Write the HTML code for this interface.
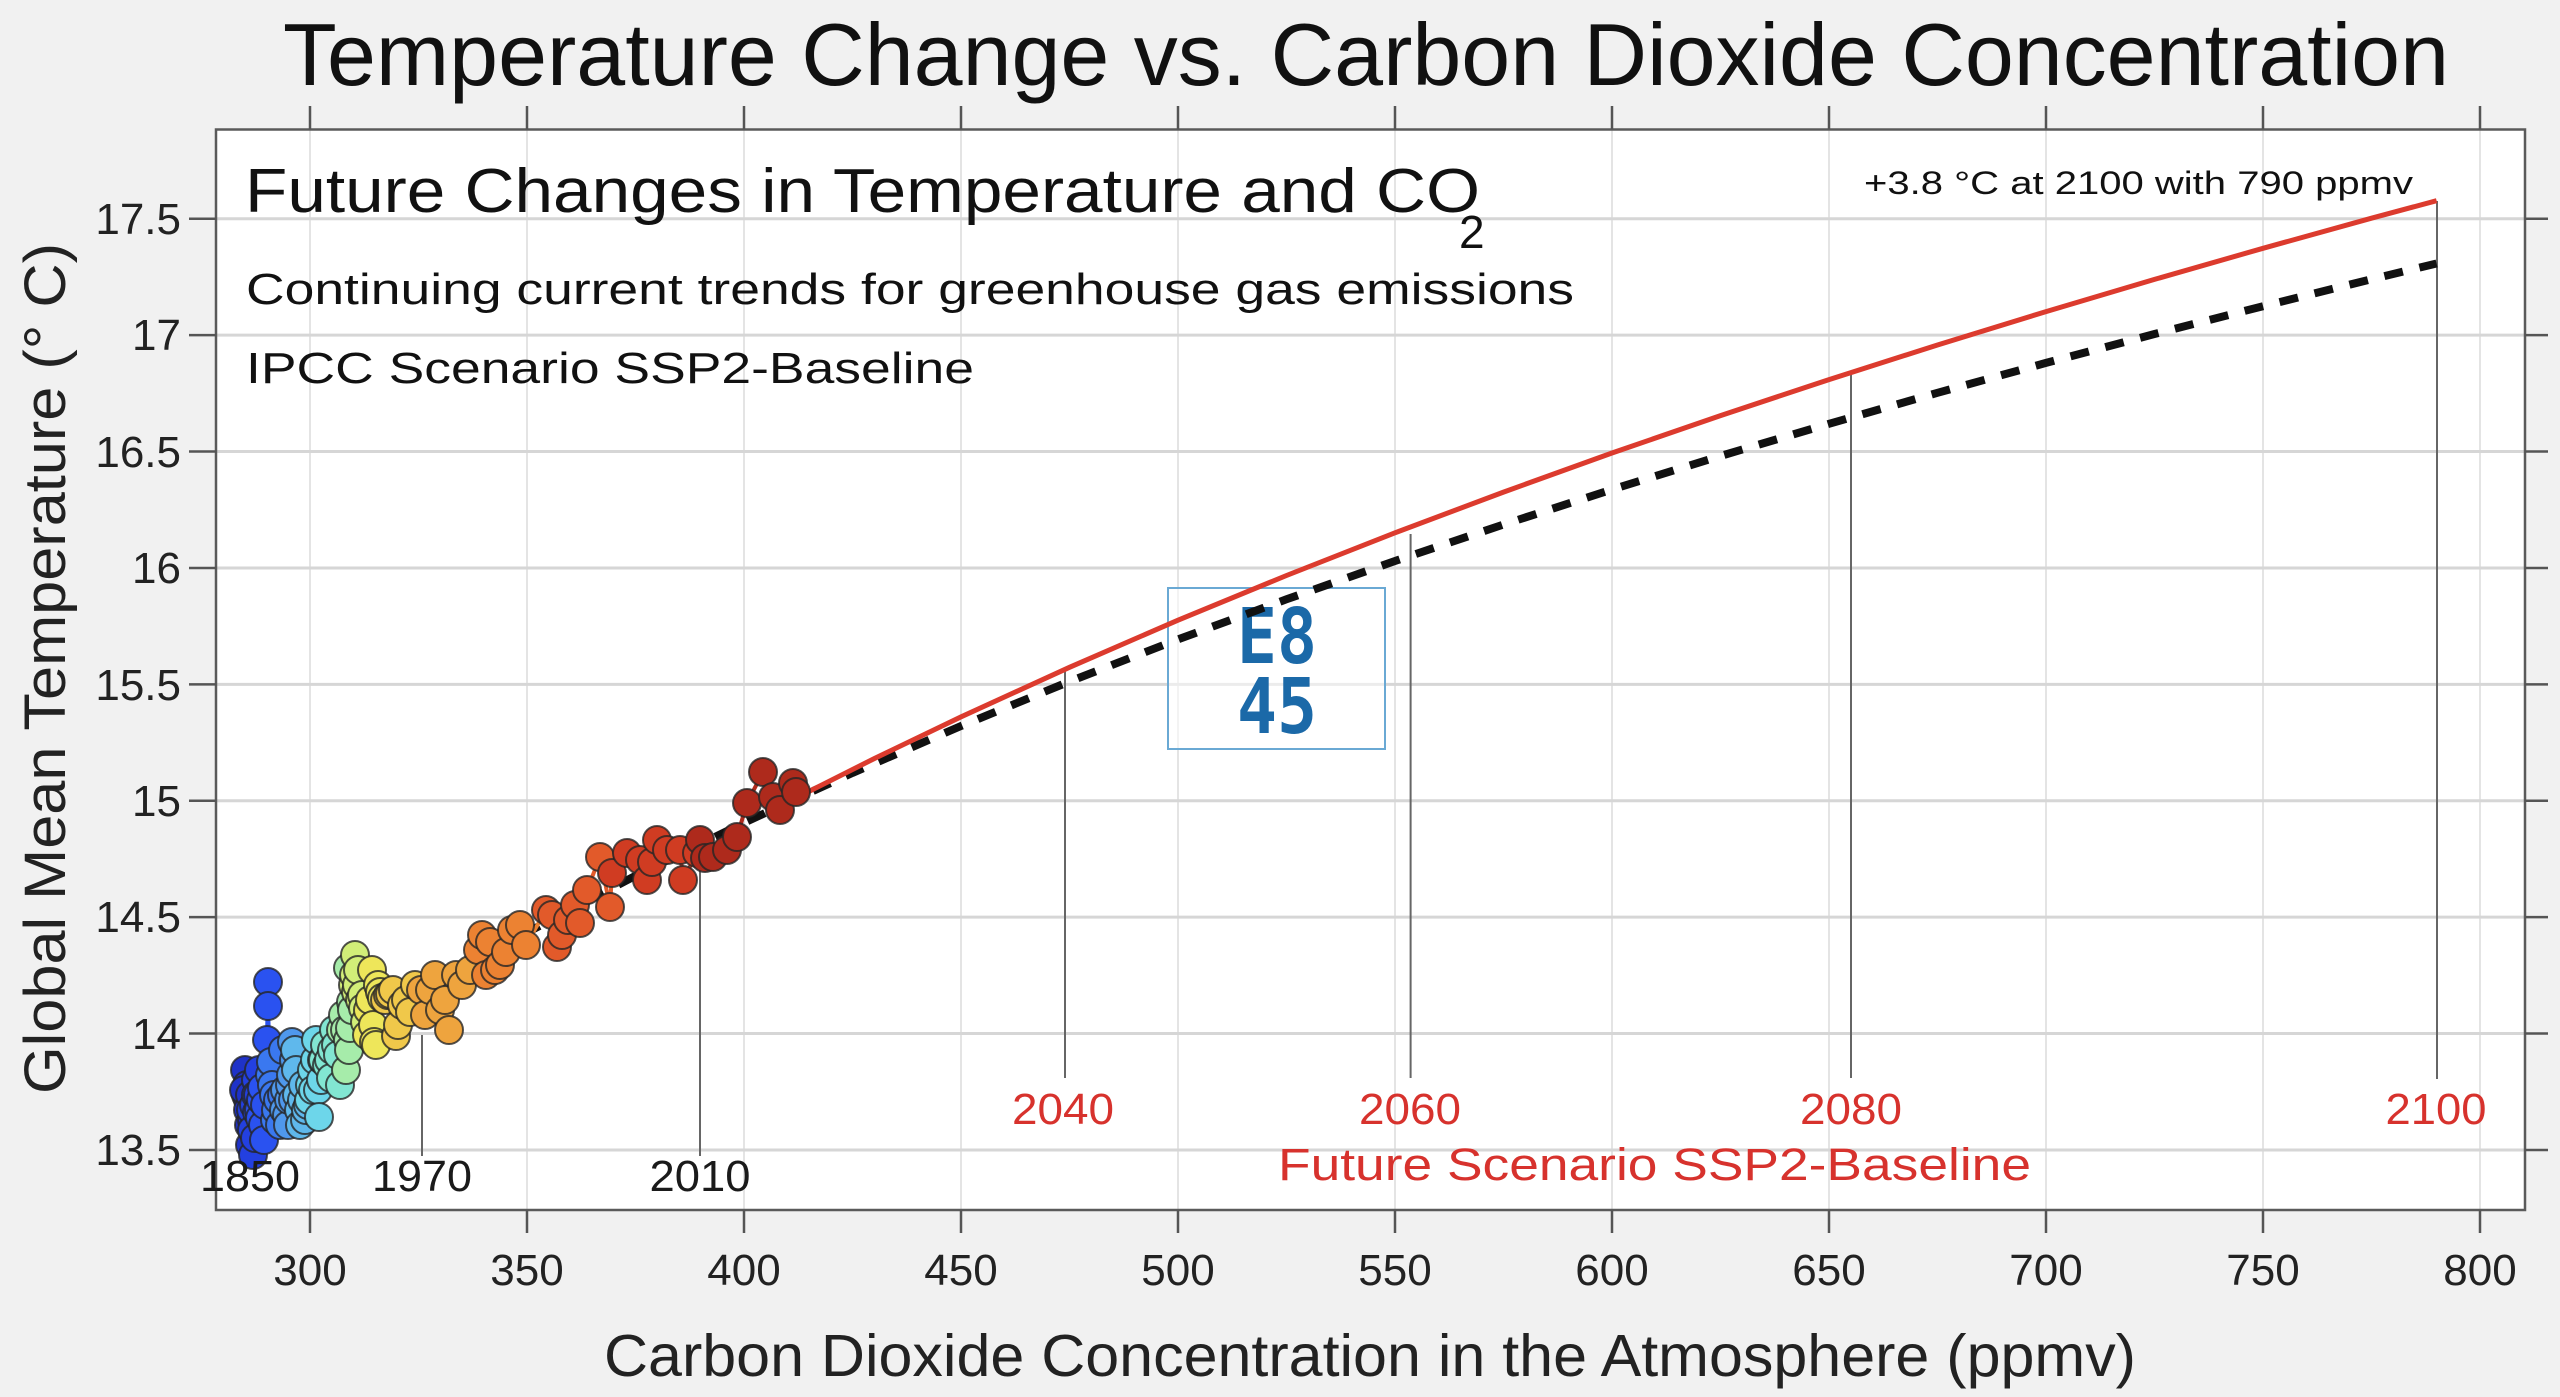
<!DOCTYPE html>
<html>
<head>
<meta charset="utf-8">
<style>
html,body{margin:0;padding:0;background:#f1f1f1;}
svg{display:block;}
text{font-family:"Liberation Sans",Arial,sans-serif;}
</style>
</head>
<body>
<svg width="2560" height="1397" viewBox="0 0 2560 1397" xmlns="http://www.w3.org/2000/svg">
<rect x="0" y="0" width="2560" height="1397" fill="#f1f1f1"/>

<!-- Title -->
<text x="283" y="85" font-size="88" fill="#111" textLength="2166" lengthAdjust="spacingAndGlyphs">Temperature Change vs. Carbon Dioxide Concentration</text>

<!-- Plot area -->
<rect x="216" y="129.5" width="2309" height="1080.5" fill="#ffffff"/>

<!-- vertical grid -->
<g stroke="#dedede" stroke-width="1.6">
<line x1="310" y1="130" x2="310" y2="1210"/>
<line x1="527" y1="130" x2="527" y2="1210"/>
<line x1="744" y1="130" x2="744" y2="1210"/>
<line x1="961" y1="130" x2="961" y2="1210"/>
<line x1="1178" y1="130" x2="1178" y2="1210"/>
<line x1="1395" y1="130" x2="1395" y2="1210"/>
<line x1="1612" y1="130" x2="1612" y2="1210"/>
<line x1="1829" y1="130" x2="1829" y2="1210"/>
<line x1="2046" y1="130" x2="2046" y2="1210"/>
<line x1="2263" y1="130" x2="2263" y2="1210"/>
<line x1="2480" y1="130" x2="2480" y2="1210"/>
</g>
<!-- horizontal grid -->
<g stroke="#d6d6d6" stroke-width="3">
<line x1="216" y1="218.75" x2="2525" y2="218.75"/>
<line x1="216" y1="335.15" x2="2525" y2="335.15"/>
<line x1="216" y1="451.55" x2="2525" y2="451.55"/>
<line x1="216" y1="567.95" x2="2525" y2="567.95"/>
<line x1="216" y1="684.35" x2="2525" y2="684.35"/>
<line x1="216" y1="800.75" x2="2525" y2="800.75"/>
<line x1="216" y1="917.15" x2="2525" y2="917.15"/>
<line x1="216" y1="1033.55" x2="2525" y2="1033.55"/>
<line x1="216" y1="1149.95" x2="2525" y2="1149.95"/>
</g>

<!-- plot box -->
<rect x="216" y="129.5" width="2309" height="1080.5" fill="none" stroke="#5a5a5a" stroke-width="2.5"/>

<!-- ticks -->
<g stroke="#555" stroke-width="2.5">
<line x1="310" y1="106" x2="310" y2="129"/><line x1="527" y1="106" x2="527" y2="129"/><line x1="744" y1="106" x2="744" y2="129"/><line x1="961" y1="106" x2="961" y2="129"/><line x1="1178" y1="106" x2="1178" y2="129"/><line x1="1395" y1="106" x2="1395" y2="129"/><line x1="1612" y1="106" x2="1612" y2="129"/><line x1="1829" y1="106" x2="1829" y2="129"/><line x1="2046" y1="106" x2="2046" y2="129"/><line x1="2263" y1="106" x2="2263" y2="129"/><line x1="2480" y1="106" x2="2480" y2="129"/>
<line x1="310" y1="1210" x2="310" y2="1233"/><line x1="527" y1="1210" x2="527" y2="1233"/><line x1="744" y1="1210" x2="744" y2="1233"/><line x1="961" y1="1210" x2="961" y2="1233"/><line x1="1178" y1="1210" x2="1178" y2="1233"/><line x1="1395" y1="1210" x2="1395" y2="1233"/><line x1="1612" y1="1210" x2="1612" y2="1233"/><line x1="1829" y1="1210" x2="1829" y2="1233"/><line x1="2046" y1="1210" x2="2046" y2="1233"/><line x1="2263" y1="1210" x2="2263" y2="1233"/><line x1="2480" y1="1210" x2="2480" y2="1233"/>
<line x1="189" y1="218.75" x2="216" y2="218.75"/><line x1="189" y1="335.15" x2="216" y2="335.15"/><line x1="189" y1="451.55" x2="216" y2="451.55"/><line x1="189" y1="567.95" x2="216" y2="567.95"/><line x1="189" y1="684.35" x2="216" y2="684.35"/><line x1="189" y1="800.75" x2="216" y2="800.75"/><line x1="189" y1="917.15" x2="216" y2="917.15"/><line x1="189" y1="1033.55" x2="216" y2="1033.55"/><line x1="189" y1="1149.95" x2="216" y2="1149.95"/>
<line x1="2525" y1="218.75" x2="2548" y2="218.75"/><line x1="2525" y1="335.15" x2="2548" y2="335.15"/><line x1="2525" y1="451.55" x2="2548" y2="451.55"/><line x1="2525" y1="567.95" x2="2548" y2="567.95"/><line x1="2525" y1="684.35" x2="2548" y2="684.35"/><line x1="2525" y1="800.75" x2="2548" y2="800.75"/><line x1="2525" y1="917.15" x2="2548" y2="917.15"/><line x1="2525" y1="1033.55" x2="2548" y2="1033.55"/><line x1="2525" y1="1149.95" x2="2548" y2="1149.95"/>
</g>

<!-- y tick labels -->
<g font-size="44" fill="#222" text-anchor="end">
<text x="181" y="234">17.5</text>
<text x="181" y="350">17</text>
<text x="181" y="467">16.5</text>
<text x="181" y="583">16</text>
<text x="181" y="700">15.5</text>
<text x="181" y="816">15</text>
<text x="181" y="932">14.5</text>
<text x="181" y="1049">14</text>
<text x="181" y="1165">13.5</text>
</g>
<!-- x tick labels -->
<g font-size="44" fill="#222" text-anchor="middle">
<text x="310" y="1285">300</text>
<text x="527" y="1285">350</text>
<text x="744" y="1285">400</text>
<text x="961" y="1285">450</text>
<text x="1178" y="1285">500</text>
<text x="1395" y="1285">550</text>
<text x="1612" y="1285">600</text>
<text x="1829" y="1285">650</text>
<text x="2046" y="1285">700</text>
<text x="2263" y="1285">750</text>
<text x="2480" y="1285">800</text>
</g>

<!-- axis labels -->
<text x="65" y="668.5" font-size="58" fill="#222" text-anchor="middle" textLength="851" lengthAdjust="spacingAndGlyphs" transform="rotate(-90 65 668.5)">Global Mean Temperature (° C)</text>
<text x="604" y="1376" font-size="59" fill="#222" textLength="1532" lengthAdjust="spacingAndGlyphs">Carbon Dioxide Concentration in the Atmosphere (ppmv)</text>

<!-- annotation text -->
<text x="245" y="212" font-size="62" fill="#111" textLength="1235" lengthAdjust="spacingAndGlyphs">Future Changes in Temperature and CO</text>
<text x="1459" y="248" font-size="46" fill="#111">2</text>
<text x="246" y="304" font-size="44" fill="#111" textLength="1328" lengthAdjust="spacingAndGlyphs">Continuing current trends for greenhouse gas emissions</text>
<text x="246" y="383" font-size="44" fill="#111" textLength="728" lengthAdjust="spacingAndGlyphs">IPCC Scenario SSP2-Baseline</text>
<text x="1864" y="194" font-size="32" fill="#111" textLength="549" lengthAdjust="spacingAndGlyphs">+3.8 °C at 2100 with 790 ppmv</text>

<!-- year guide lines -->
<g stroke="#666" stroke-width="2">
<line x1="250" y1="1100" x2="250" y2="1156"/>
<line x1="422" y1="1035" x2="422" y2="1156"/>
<line x1="700" y1="868" x2="700" y2="1156"/>
<line x1="1065" y1="669" x2="1065" y2="1078"/>
<line x1="1410.6" y1="534" x2="1410.6" y2="1078"/>
<line x1="1851" y1="373" x2="1851" y2="1078"/>
<line x1="2437" y1="201" x2="2437" y2="1079"/>
</g>

<!-- watermark box -->
<rect x="1168" y="588" width="217" height="161" fill="#ffffff" fill-opacity="0.55" stroke="#6aa9d4" stroke-width="2"/>
<g font-weight="bold" font-size="77" fill="#1b69a8">
<text x="1237" y="663" textLength="80" lengthAdjust="spacingAndGlyphs" style="font-family:'DejaVu Sans Mono','Liberation Mono',monospace">E8</text>
<text x="1237" y="733" textLength="80" lengthAdjust="spacingAndGlyphs" style="font-family:'DejaVu Sans Mono','Liberation Mono',monospace">45</text>
</g>

<!-- dashed fit line -->
<polyline fill="none" stroke="#111" stroke-width="8" stroke-dasharray="19 17" points="244.9,1101.3 310,1059.2 418.5,993.4 527,932.5 635.5,875.8 744,822.7 852.5,772.9 961,726 1069.5,681.5 1178,639.4 1286.5,599.3 1395,561 1503.5,524.5 1612,489.5 1720.5,456 1829,423.8 1937.5,392.8 2046,362.9 2154.5,334 2263,306.2 2371.5,279.2 2436.6,263.5"/>
<!-- red projection line -->
<polyline fill="none" stroke="#dc3b2e" stroke-width="5" points="787.4,802.3 874.2,758.6 961,716.9 1069.5,667.3 1178,620.2 1286.5,575.5 1395,532.8 1503.5,492.1 1612,453 1720.5,415.6 1829,379.6 1937.5,345 2046,311.6 2154.5,279.4 2263,248.3 2371.5,218.2 2436.6,200.7"/>

<!-- connecting lines of historic data -->
<g fill="none" stroke-width="4">
<polyline stroke="#1f32c8" points="246,1095 245,1070 247,1085 248,1100 244,1090 248,1110 249,1125 250,1145 252,1120 250,1095 251,1110"/>
<polyline stroke="#2340e0" points="251,1110 252,1130 253,1155 254,1105 255,1138 256,1080 256,1095 257,1112 258,1095 259,1070 259,1110"/>
<polyline stroke="#2a52f0" points="259,1110 260,1118 261,1100 262,1088 263,1125 264,1140 265,1105 267,1040 268,982 268,1006 270,1075"/>
<polyline stroke="#3a78f0" points="270,1075 271,1062 272,1085 274,1095 275,1120 276,1110 278,1100 280,1125 282,1095 283,1050 284,1110"/>
<polyline stroke="#4f98ec" points="284,1110 285,1090 287,1115 288,1125 289,1100 290,1085 291,1075 292,1042 293,1100 294,1060 295,1050"/>
<polyline stroke="#5fb8ec" points="295,1050 296,1070 297,1095 299,1110 300,1125 302,1100 303,1085 305,1120 306,1110 308,1105 309,1100"/>
<polyline stroke="#6dd6ea" points="309,1100 310,1085 312,1070 313,1090 315,1060 316,1040 318,1090 319,1117 321,1080 322,1060 323,1060"/>
<polyline stroke="#82e6d2" points="323,1060 325,1045 327,1065 329,1060 331,1078 332,1050 334,1030 336,1045 338,1055 340,1085 341,1030"/>
<polyline stroke="#a6ecaa" points="341,1030 343,1015 345,1030 346,1070 348,1040 349,1050 350,1028 351,1002 348,968 352,1010 353,985"/>
<polyline stroke="#d2ee78" points="353,985 354,975 356,992 357,985 355,955 358,970 360,1000 362,995 363,1008 365,1022 367,1035"/>
<polyline stroke="#eee65a" points="367,1035 368,1010 370,1000 372,970 373,1025 374,1042 376,1045 378,985 380,992 382,998 385,1000"/>
<polyline stroke="#f0c84a" points="385,1000 388,995 390,994 393,990 396,1036 398,1025 402,1005 406,1000 410,1012 415,985 421,990"/>
<polyline stroke="#eea43e" points="421,990 425,1015 430,990 435,975 440,1010 445,1000 449,1030 456,975 462,985 470,970 478,950"/>
<polyline stroke="#ec8232" points="478,950 482,935 486,975 490,942 495,970 500,965 506,952 512,930 520,925 526,945 546,910"/>
<polyline stroke="#e25a2a" points="546,910 552,915 557,947 562,935 568,920 575,905 580,923 587,890 600,857 610,907 612,873"/>
<polyline stroke="#d03c22" points="612,873 627,853 640,860 647,880 652,862 657,840 667,850 680,850 683,880 697,853 700,840"/>
<polyline stroke="#ae2a1c" points="700,840 705,858 713,857 727,850 737,837 747,803 763,772 773,797 780,810 793,783 796,792"/>
</g>

<!-- historic data circles -->
<g stroke="#262626" stroke-opacity="0.8" stroke-width="2">
<g fill="#1f32c8">
<circle cx="246" cy="1095" r="14"/><circle cx="245" cy="1070" r="14"/><circle cx="247" cy="1085" r="14"/><circle cx="248" cy="1100" r="14"/><circle cx="244" cy="1090" r="14"/><circle cx="248" cy="1110" r="14"/><circle cx="249" cy="1125" r="14"/><circle cx="250" cy="1145" r="14"/><circle cx="252" cy="1120" r="14"/><circle cx="250" cy="1095" r="14"/>
</g>
<g fill="#2340e0">
<circle cx="251" cy="1110" r="14"/><circle cx="252" cy="1130" r="14"/><circle cx="253" cy="1155" r="14"/><circle cx="254" cy="1105" r="14"/><circle cx="255" cy="1138" r="14"/><circle cx="256" cy="1080" r="14"/><circle cx="256" cy="1095" r="14"/><circle cx="257" cy="1112" r="14"/><circle cx="258" cy="1095" r="14"/><circle cx="259" cy="1070" r="14"/>
</g>
<g fill="#2a52f0">
<circle cx="259" cy="1110" r="14"/><circle cx="260" cy="1118" r="14"/><circle cx="261" cy="1100" r="14"/><circle cx="262" cy="1088" r="14"/><circle cx="263" cy="1125" r="14"/><circle cx="264" cy="1140" r="14"/><circle cx="265" cy="1105" r="14"/><circle cx="267" cy="1040" r="14"/><circle cx="268" cy="982" r="14"/><circle cx="268" cy="1006" r="14"/>
</g>
<g fill="#3a78f0">
<circle cx="270" cy="1075" r="14"/><circle cx="271" cy="1062" r="14"/><circle cx="272" cy="1085" r="14"/><circle cx="274" cy="1095" r="14"/><circle cx="275" cy="1120" r="14"/><circle cx="276" cy="1110" r="14"/><circle cx="278" cy="1100" r="14"/><circle cx="280" cy="1125" r="14"/><circle cx="282" cy="1095" r="14"/><circle cx="283" cy="1050" r="14"/>
</g>
<g fill="#4f98ec">
<circle cx="284" cy="1110" r="14"/><circle cx="285" cy="1090" r="14"/><circle cx="287" cy="1115" r="14"/><circle cx="288" cy="1125" r="14"/><circle cx="289" cy="1100" r="14"/><circle cx="290" cy="1085" r="14"/><circle cx="291" cy="1075" r="14"/><circle cx="292" cy="1042" r="14"/><circle cx="293" cy="1100" r="14"/><circle cx="294" cy="1060" r="14"/>
</g>
<g fill="#5fb8ec">
<circle cx="295" cy="1050" r="14"/><circle cx="296" cy="1070" r="14"/><circle cx="297" cy="1095" r="14"/><circle cx="299" cy="1110" r="14"/><circle cx="300" cy="1125" r="14"/><circle cx="302" cy="1100" r="14"/><circle cx="303" cy="1085" r="14"/><circle cx="305" cy="1120" r="14"/><circle cx="306" cy="1110" r="14"/><circle cx="308" cy="1105" r="14"/>
</g>
<g fill="#6dd6ea">
<circle cx="309" cy="1100" r="14"/><circle cx="310" cy="1085" r="14"/><circle cx="312" cy="1070" r="14"/><circle cx="313" cy="1090" r="14"/><circle cx="315" cy="1060" r="14"/><circle cx="316" cy="1040" r="14"/><circle cx="318" cy="1090" r="14"/><circle cx="319" cy="1117" r="14"/><circle cx="321" cy="1080" r="14"/><circle cx="322" cy="1060" r="14"/>
</g>
<g fill="#82e6d2">
<circle cx="323" cy="1060" r="14"/><circle cx="325" cy="1045" r="14"/><circle cx="327" cy="1065" r="14"/><circle cx="329" cy="1060" r="14"/><circle cx="331" cy="1078" r="14"/><circle cx="332" cy="1050" r="14"/><circle cx="334" cy="1030" r="14"/><circle cx="336" cy="1045" r="14"/><circle cx="338" cy="1055" r="14"/><circle cx="340" cy="1085" r="14"/>
</g>
<g fill="#a6ecaa">
<circle cx="341" cy="1030" r="14"/><circle cx="343" cy="1015" r="14"/><circle cx="345" cy="1030" r="14"/><circle cx="346" cy="1070" r="14"/><circle cx="348" cy="1040" r="14"/><circle cx="349" cy="1050" r="14"/><circle cx="350" cy="1028" r="14"/><circle cx="351" cy="1002" r="14"/><circle cx="348" cy="968" r="14"/><circle cx="352" cy="1010" r="14"/>
</g>
<g fill="#d2ee78">
<circle cx="353" cy="985" r="14"/><circle cx="354" cy="975" r="14"/><circle cx="356" cy="992" r="14"/><circle cx="357" cy="985" r="14"/><circle cx="355" cy="955" r="14"/><circle cx="358" cy="970" r="14"/><circle cx="360" cy="1000" r="14"/><circle cx="362" cy="995" r="14"/><circle cx="363" cy="1008" r="14"/><circle cx="365" cy="1022" r="14"/>
</g>
<g fill="#eee65a">
<circle cx="367" cy="1035" r="14"/><circle cx="368" cy="1010" r="14"/><circle cx="370" cy="1000" r="14"/><circle cx="372" cy="970" r="14"/><circle cx="373" cy="1025" r="14"/><circle cx="374" cy="1042" r="14"/><circle cx="376" cy="1045" r="14"/><circle cx="378" cy="985" r="14"/><circle cx="380" cy="992" r="14"/><circle cx="382" cy="998" r="14"/>
</g>
<g fill="#f0c84a">
<circle cx="385" cy="1000" r="14"/><circle cx="388" cy="995" r="14"/><circle cx="390" cy="994" r="14"/><circle cx="393" cy="990" r="14"/><circle cx="396" cy="1036" r="14"/><circle cx="398" cy="1025" r="14"/><circle cx="402" cy="1005" r="14"/><circle cx="406" cy="1000" r="14"/><circle cx="410" cy="1012" r="14"/><circle cx="415" cy="985" r="14"/>
</g>
<g fill="#eea43e">
<circle cx="421" cy="990" r="14"/><circle cx="425" cy="1015" r="14"/><circle cx="430" cy="990" r="14"/><circle cx="435" cy="975" r="14"/><circle cx="440" cy="1010" r="14"/><circle cx="445" cy="1000" r="14"/><circle cx="449" cy="1030" r="14"/><circle cx="456" cy="975" r="14"/><circle cx="462" cy="985" r="14"/><circle cx="470" cy="970" r="14"/>
</g>
<g fill="#ec8232">
<circle cx="478" cy="950" r="14"/><circle cx="482" cy="935" r="14"/><circle cx="486" cy="975" r="14"/><circle cx="490" cy="942" r="14"/><circle cx="495" cy="970" r="14"/><circle cx="500" cy="965" r="14"/><circle cx="506" cy="952" r="14"/><circle cx="512" cy="930" r="14"/><circle cx="520" cy="925" r="14"/><circle cx="526" cy="945" r="14"/>
</g>
<g fill="#e25a2a">
<circle cx="546" cy="910" r="14"/><circle cx="552" cy="915" r="14"/><circle cx="557" cy="947" r="14"/><circle cx="562" cy="935" r="14"/><circle cx="568" cy="920" r="14"/><circle cx="575" cy="905" r="14"/><circle cx="580" cy="923" r="14"/><circle cx="587" cy="890" r="14"/><circle cx="600" cy="857" r="14"/><circle cx="610" cy="907" r="14"/>
</g>
<g fill="#d03c22">
<circle cx="612" cy="873" r="14"/><circle cx="627" cy="853" r="14"/><circle cx="640" cy="860" r="14"/><circle cx="647" cy="880" r="14"/><circle cx="652" cy="862" r="14"/><circle cx="657" cy="840" r="14"/><circle cx="667" cy="850" r="14"/><circle cx="680" cy="850" r="14"/><circle cx="683" cy="880" r="14"/><circle cx="697" cy="853" r="14"/>
</g>
<g fill="#ae2a1c">
<circle cx="700" cy="840" r="14"/><circle cx="705" cy="858" r="14"/><circle cx="713" cy="857" r="14"/><circle cx="727" cy="850" r="14"/><circle cx="737" cy="837" r="14"/><circle cx="747" cy="803" r="14"/><circle cx="763" cy="772" r="14"/><circle cx="773" cy="797" r="14"/><circle cx="780" cy="810" r="14"/><circle cx="793" cy="783" r="14"/><circle cx="796" cy="792" r="14"/>
</g>
</g>

<!-- year labels -->
<g font-size="44" fill="#1a1a1a" text-anchor="middle">
<text x="250" y="1191" textLength="100" lengthAdjust="spacingAndGlyphs">1850</text>
<text x="422" y="1191" textLength="100" lengthAdjust="spacingAndGlyphs">1970</text>
<text x="700" y="1191" textLength="101" lengthAdjust="spacingAndGlyphs">2010</text>
</g>
<g font-size="44" fill="#d7322d" text-anchor="middle">
<text x="1063" y="1124" textLength="102" lengthAdjust="spacingAndGlyphs">2040</text>
<text x="1410" y="1124" textLength="102" lengthAdjust="spacingAndGlyphs">2060</text>
<text x="1851" y="1124" textLength="102" lengthAdjust="spacingAndGlyphs">2080</text>
<text x="2436" y="1124" textLength="101" lengthAdjust="spacingAndGlyphs">2100</text>
</g>
<text x="1278" y="1180" font-size="45" fill="#d7322d" textLength="753" lengthAdjust="spacingAndGlyphs">Future Scenario SSP2-Baseline</text>
</svg>
</body>
</html>
